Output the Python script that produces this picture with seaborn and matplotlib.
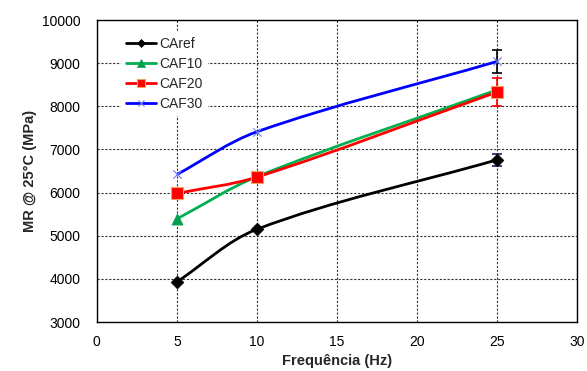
import numpy as np
import pandas as pd
import matplotlib
matplotlib.use("Agg")
import matplotlib.pyplot as plt
from matplotlib.path import Path
from matplotlib.patches import PathPatch
from matplotlib.lines import Line2D
import seaborn as sns

# Resilient modulus at 25 °C versus loading frequency
freq = [5, 10, 25]
series_names = ["CAref", "CAF10", "CAF20", "CAF30"]
caref = [3930, 5150, 6760]
caf10 = [5390, 6370, 8380]
caf20 = [5980, 6360, 8330]
caf30 = [6420, 7410, 9040]
err_caref = [0, 0, 140]
err_caf20 = [0, 0, 320]
err_caf30 = [0, 0, 260]

x_ticks = [0, 5, 10, 15, 20, 25, 30]
y_ticks = [3000, 4000, 5000, 6000, 7000, 8000, 9000, 10000]

sns.set_theme(style="white")
plt.rcParams["font.family"] = ["Liberation Sans", "DejaVu Sans"]

fig = plt.figure(figsize=(5.87, 3.71), dpi=100)
ax = fig.add_axes([0.165, 0.132, 0.818, 0.814])
ax.set_xlim(0, 30)
ax.set_ylim(3000, 10000)

df = pd.DataFrame({
    "freq": freq * 4,
    "MR": caref + caf10 + caf20 + caf30,
    "serie": sum([[n] * 3 for n in series_names], []),
})

styles = {
    "CAref": dict(color="#000000", marker="D", ms=6.5, mfc="#000000", mec="#000000", mew=0.5),
    "CAF10": dict(color="#00B050", marker="^", ms=8, mfc="#00A050", mec="#00A050", mew=0.5),
    "CAF20": dict(color="#FF0000", marker="s", ms=8, mfc="#FF0000", mec="#F4A460", mew=0.8),
    "CAF30": dict(color="#0000FF", marker="x", ms=6, mfc="none", mec="#6A7CFF", mew=0.8),
}


def smooth_path(xs, ys, k=1.0 / 3.0):
    # Cubic Bezier segments through the points; tangents are weighted by
    # the on-screen segment lengths so short segments bend gently
    tr = ax.transData
    pts = tr.transform(np.column_stack([xs, ys]).astype(float))
    n = len(pts)
    verts = [pts[0]]
    codes = [Path.MOVETO]
    for i in range(n - 1):
        p0 = pts[i - 1] if i > 0 else pts[i]
        p1 = pts[i]
        p2 = pts[i + 1]
        p3 = pts[i + 2] if i + 2 < n else pts[i + 1]
        d01 = np.linalg.norm(p1 - p0)
        d12 = np.linalg.norm(p2 - p1)
        d23 = np.linalg.norm(p3 - p2)
        t1 = (p2 - p0) * (d12 / (d01 + d12)) if d01 > 0 else (p2 - p1)
        t2 = (p3 - p1) * (d12 / (d12 + d23)) if d23 > 0 else (p2 - p1)
        c1 = p1 + t1 * k
        c2 = p2 - t2 * k
        verts += [c1, c2, p2]
        codes += [Path.CURVE4] * 3
    verts = tr.inverted().transform(np.array(verts))
    return Path(verts, codes)


errs = {"CAref": err_caref, "CAF20": err_caf20, "CAF30": err_caf30}
err_colors = {"CAref": "#1F1F60", "CAF20": "#FF0000", "CAF30": "#000000"}

for name in series_names:
    sub = df[df["serie"] == name]
    st = styles[name]
    ax.add_patch(PathPatch(smooth_path(sub["freq"].values, sub["MR"].values),
                           facecolor="none", edgecolor=st["color"], lw=2.0, zorder=3))
    if name in errs:
        e = np.array(errs[name])
        mask = e > 0
        ax.errorbar(sub["freq"].values[mask], sub["MR"].values[mask], yerr=e[mask],
                    fmt="none", ecolor=err_colors[name], elinewidth=1.2,
                    capsize=3.5, capthick=1.2, zorder=4)
    sns.scatterplot(x=sub["freq"], y=sub["MR"], ax=ax, marker=st["marker"],
                    s=st["ms"] ** 2, color=st["mfc"] if st["mfc"] != "none" else st["mec"],
                    edgecolor=st["mec"] if st["marker"] != "x" else None,
                    linewidth=st["mew"], zorder=5, legend=False)

ax.set_xlim(0, 30)
ax.set_ylim(3000, 10000)
ax.set_xticks(x_ticks)
ax.set_yticks(y_ticks)
ax.set_xticklabels([str(t) for t in x_ticks], fontsize=10)
ax.set_yticklabels([str(t) for t in y_ticks], fontsize=10)
ax.grid(True, color="#333333", linestyle=(0, (2, 1.5)), linewidth=0.8)
ax.set_axisbelow(True)
for sp in ax.spines.values():
    sp.set_color("black")
    sp.set_linewidth(1.0)
ax.tick_params(axis="both", direction="out", length=4, width=0.8, color="black",
               labelcolor="black")
ax.tick_params(axis="x", pad=5)
ax.tick_params(axis="y", pad=8)
ax.set_xlabel("Frequência (Hz)", fontsize=10.5, fontweight="bold", labelpad=4)
ax.set_ylabel("MR @ 25°C (MPa)", fontsize=10.5, fontweight="bold", labelpad=3)

handles = []
for name in series_names:
    st = styles[name]
    handles.append(Line2D([0], [0], color=st["color"], lw=2.0, marker=st["marker"],
                          ms=st["ms"] * 0.65, mfc=st["mfc"], mec=st["mec"], mew=st["mew"]))
leg = ax.legend(handles, series_names, loc="upper left", bbox_to_anchor=(0.035, 0.985),
                frameon=True, fancybox=False, framealpha=1.0, edgecolor="white",
                fontsize=10, handlelength=2.15, handletextpad=0.2, labelspacing=0.42,
                borderpad=0.4)
leg.get_frame().set_linewidth(0)

fig.savefig("out.png", dpi=100, facecolor="white")
